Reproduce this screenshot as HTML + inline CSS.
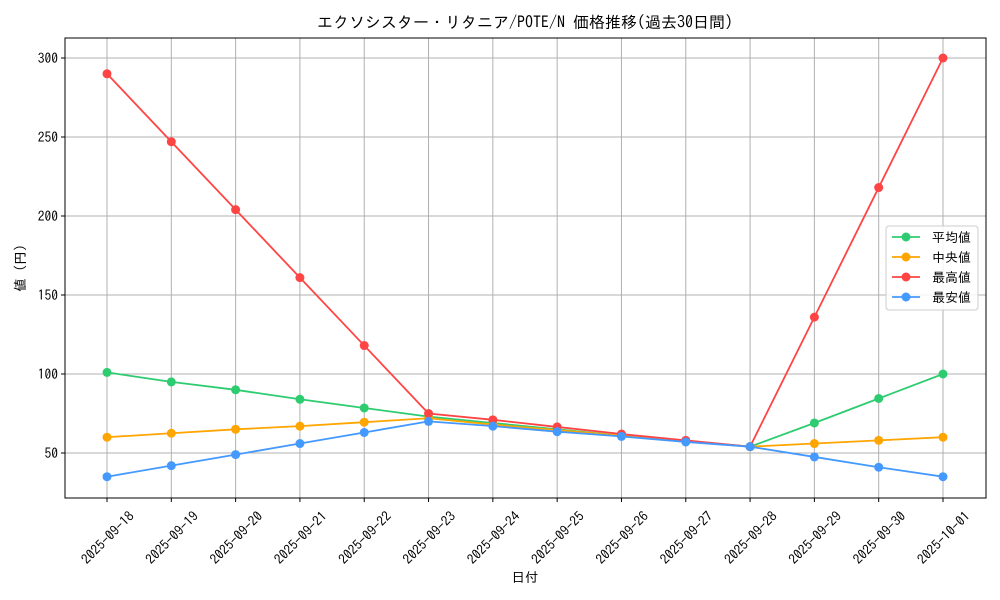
<!DOCTYPE html>
<html><head><meta charset="utf-8">
<style>
body{margin:0;background:#fff;}
svg{display:block;font-family:"IPAGothic","Noto Sans CJK JP",monospace;}
</style></head>
<body>
<svg id="chart" width="1000" height="600"></svg>
<script>
const dates=["2025-09-18","2025-09-19","2025-09-20","2025-09-21","2025-09-22","2025-09-23","2025-09-24","2025-09-25","2025-09-26","2025-09-27","2025-09-28","2025-09-29","2025-09-30","2025-10-01"];
const avgVals=[101,95,90,84,78.5,73,69,65,61,57.5,54,69,84.5,100];
const medVals=[60,62.5,65,67,69.5,72,68,64.5,61,57.5,54,56,58,60];
const maxVals=[290,247,204,161,118,75,71,66.5,62,58,54,136,218,300];
const minVals=[35,42,49,56,63,70,67,63.5,60.5,57,54,47.5,41,35];
const yTicks=[50,100,150,200,250,300];
const seriesNames=["平均値","中央値","最高値","最安値"];

const NS="http://www.w3.org/2000/svg";
const svg=document.getElementById('chart');
const L=65,R=986,T=38,B=498;
const x0=107,x1=943;
function xs(i){return x0+(x1-x0)*i/(dates.length-1);}
function ys(v){return 453+(50-v)*(395/250);}
function mk(tag,attrs,parent){const e=document.createElementNS(NS,tag);for(const k in attrs)e.setAttribute(k,attrs[k]);(parent||svg).appendChild(e);return e;}

dates.forEach((d,i)=>{const l=mk('line',{x1:xs(i),x2:xs(i),y1:T,y2:B,stroke:'#b0b0b0','stroke-width':1});

});
yTicks.forEach(v=>{const l=mk('line',{x1:L,x2:R,y1:ys(v),y2:ys(v),stroke:'#b0b0b0','stroke-width':1});

});
const frame=mk('rect',{x:L,y:T,width:R-L,height:B-T,fill:'none',stroke:'#000','stroke-width':1});



yTicks.forEach(v=>{mk('line',{x1:L-4,x2:L,y1:ys(v),y2:ys(v),stroke:'#000'});
const t=mk('text',{x:L-7,y:ys(v)+5,'text-anchor':'end','font-size':13.5});t.textContent=v;

});
dates.forEach((d,i)=>{mk('line',{x1:xs(i),x2:xs(i),y1:B,y2:B+4,stroke:'#000'});
const ax=xs(i)+4, ay=B+43;
const t=mk('text',{x:ax,y:ay,'text-anchor':'middle','font-size':13.5,transform:`rotate(-45 ${ax} ${ay})`});t.textContent=d;

});

const title=mk('text',{x:525,y:28,'text-anchor':'middle','font-size':16});title.textContent="エクソシスター・リタニア/POTE/N 価格推移(過去30日間)";


const xt=mk('text',{x:525,y:582,'text-anchor':'middle','font-size':13.5});xt.textContent="日付";


const yt=mk('text',{x:25,y:268,'text-anchor':'middle','font-size':13.5,transform:'rotate(-90 25 268)'});yt.textContent="値 (円)";



const series=[[avgVals,'#2ecc71','average'],[medVals,'#ffa500','median'],[maxVals,'#ff4444','max'],[minVals,'#4499ff','min']];
series.forEach(([vals,c,n])=>{
const g=mk('g',{});


mk('polyline',{points:vals.map((v,i)=>xs(i)+','+ys(v)).join(' '),fill:'none',stroke:c,'stroke-width':1.8},g);
vals.forEach((v,i)=>{const p=mk('circle',{cx:xs(i),cy:ys(v),r:4.5,fill:c},g);

});
});

const lg=mk('g',{});


mk('rect',{x:886,y:226,width:92,height:84,rx:3,fill:'#fff','fill-opacity':0.85,stroke:'#ccc'},lg);
series.forEach(([v,c,n],k)=>{const y=237+k*20;
const e=mk('g',{},lg);


mk('line',{x1:892,x2:920,y1:y,y2:y,stroke:c,'stroke-width':1.8},e);
mk('circle',{cx:906,cy:y,r:4.5,fill:c},e);
const t=mk('text',{x:932,y:y+5,'font-size':13},e);t.textContent=seriesNames[k];});
</script>
</body></html>
